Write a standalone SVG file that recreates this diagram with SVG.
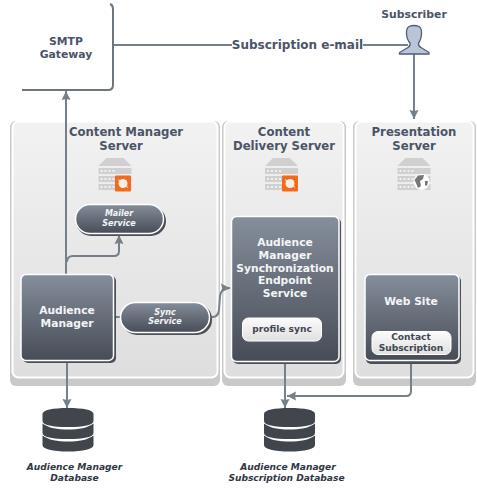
<svg xmlns="http://www.w3.org/2000/svg" width="477" height="490" viewBox="0 0 477 490">
<style>
text{font-family:"DejaVu Sans",Verdana,sans-serif;text-anchor:middle}
.t{font-size:11.7px;font-weight:bold;fill:#4b5467}
.e{font-size:12px;font-weight:bold;fill:#4b5467}
.w{font-size:10.7px;font-weight:bold;fill:#f4f5f7}
.s{font-size:8px;font-weight:bold;font-style:italic;fill:#f4f5f7}
.d{font-size:9.1px;font-weight:bold;font-style:italic;fill:#2f3644}
.b{font-size:10.8px;font-weight:bold;fill:#4b5467}
.i{font-size:9.1px;font-weight:bold;fill:#3f4654}
.c{fill:none;stroke:#76808a;stroke-width:2}
.panel{fill:url(#pg);stroke:#fff;stroke-width:2}
.shadow{fill:#c9c9c9}
.node{fill:url(#ng);stroke:#fff;stroke-width:1.5}
.ns{fill:#4a4f58}
.inner{fill:url(#ig);stroke:#fff;stroke-width:1}
.srv{fill:#d0d0d0}
.db{fill:#41464c}
</style>
<defs>
<linearGradient id="pg" x1="0" y1="0" x2="0" y2="1"><stop offset="0" stop-color="#f2f2f2"/><stop offset="1" stop-color="#dedede"/></linearGradient>
<linearGradient id="ng" x1="0" y1="0" x2="0" y2="1"><stop offset="0" stop-color="#858e9b"/><stop offset="1" stop-color="#474c57"/></linearGradient>
<linearGradient id="ig" x1="0" y1="0" x2="0" y2="1"><stop offset="0" stop-color="#fbfbfb"/><stop offset="1" stop-color="#e0e0e0"/></linearGradient>
<marker id="a" markerUnits="userSpaceOnUse" markerWidth="10" markerHeight="10" refX="9" refY="5" orient="auto"><path d="M0 0.500L9 5L0 9.500L1 5Z" fill="#76808a"/></marker>
<g id="server"><path class="srv" d="M8 0H25L33 8H0Z"/><rect class="srv" y="10" width="33" height="6"/><rect class="srv" y="18" width="33" height="6"/><rect class="srv" y="26" width="33" height="6"/><path d="M2 12h2v2H2zM6 12h2v2H6zM10 12h2v2h-2zM14 12h2v2h-2zM2 20h2v2H2zM6 20h2v2H6zM10 20h2v2h-2zM14 20h2v2h-2zM2 28h2v2H2zM6 28h2v2H6zM10 28h2v2h-2zM14 28h2v2h-2z" fill="#f0f0f0"/></g>
<g id="orange"><rect width="16" height="16" rx="1" fill="#f26a1b"/><circle cx="8" cy="8" r="4.500" fill="#f6efe8"/><path d="M3 4L13 12" stroke="#f6efe8" stroke-width="1"/></g>
<g id="dbs"><path class="db" d="M0 6C0 2 10 0 25.500 0S51 2 51 6V13C51 17 41 19 25.500 19S0 17 0 13Z"/><path class="db" d="M0 15.500C6 20 15 21.500 25.500 21.500S45 20 51 15.500V25C51 29 41 31 25.500 31S0 29 0 25Z"/><path class="db" d="M0 27.500C6 32 15 33.500 25.500 33.500S45 32 51 27.500V37C51 41 41 43.500 25.500 43.500S0 41 0 37Z"/></g>
</defs>

<g id="panel-cm"><rect class="shadow" x="10" y="121" width="210" height="265" rx="6"/><rect class="panel" x="12.500" y="121.500" width="205" height="256" rx="6"/>
<text class="t" x="126" y="136">Content Manager</text><text class="t" x="121" y="150">Server</text>
<use href="#server" x="98.500" y="158"/><use href="#orange" x="115" y="175.500"/></g>
<g id="panel-cd"><rect class="shadow" x="222" y="121" width="124" height="265" rx="6"/><rect class="panel" x="224.500" y="121.500" width="119" height="256" rx="6"/>
<text class="t" x="284" y="136">Content</text><text class="t" x="284" y="150">Delivery Server</text>
<use href="#server" x="265" y="158"/><use href="#orange" x="282" y="175.500"/></g>
<g id="panel-ps"><rect class="shadow" x="353" y="121" width="123" height="265" rx="6"/><rect class="panel" x="355.500" y="121.500" width="118" height="256" rx="6"/>
<text class="t" x="414" y="136">Presentation</text><text class="t" x="414" y="150">Server</text>
<use href="#server" x="397.500" y="158"/><circle cx="421.500" cy="182" r="8" fill="#fff"/><path d="M414.500 180L418 175.500L424 175L423 179L420 181L421 186L418 188L416 183Z" fill="#777"/><path d="M425 181L428 181L427 186L425 185Z" fill="#777"/></g>

<g id="connectors">
<path class="c" d="M66 274V91" marker-end="url(#a)"/>
<path class="c" d="M67 262Q67 256 73 256H114Q119 256 119 251V235" marker-end="url(#a)"/>
<path class="c" d="M113 317H121"/>
<path class="c" d="M210 317H213Q218 317 219 310L220 296Q221 288 230 288" marker-end="url(#a)"/>
<path class="c" d="M67 360V408" marker-end="url(#a)"/>
<path class="c" d="M285 341V408" marker-end="url(#a)"/>
<path class="c" d="M411 361V391Q411 396 406 396H287" marker-end="url(#a)"/>
<path class="c" d="M414 54V119" marker-end="url(#a)"/>
<path class="c" d="M112 45H232"/>
<path class="c" d="M363 45H408"/>
</g>

<g id="smtp"><path d="M22 90H108Q113 90 113 85V9Q113 5 110 4" fill="#fff" stroke="#6d757d" stroke-width="2"/><text class="b" x="66" y="45">SMTP</text><text class="b" x="66" y="58">Gateway</text></g>
<g id="subscriber"><text class="b" x="414" y="18">Subscriber</text>
<path d="M409 26.500Q414 24.500 419 26.500Q422 28.500 421.500 34Q421 40 418.500 43Q418 46 421 47.500L429 52.500V54H399.500V52.500L408 47.500Q410.500 46 410 43Q407 40 406.500 34Q406 28.500 409 26.500Z" fill="#b9c4d8" stroke="#4f5d70" stroke-width="1.300"/></g>
<text id="email" class="e" x="297.500" y="49">Subscription e-mail</text>

<g id="mailer"><rect class="ns" x="76" y="206" width="90" height="30" rx="15"/><rect class="node" x="75.500" y="204.500" width="88" height="29" rx="14.500"/><text class="s" x="119" y="216">Mailer</text><text class="s" x="119" y="226">Service</text></g>
<g id="audience-manager"><rect class="ns" x="23" y="276" width="93" height="87" rx="5"/><rect class="node" x="21" y="274.500" width="92.500" height="86" rx="5"/><text class="w" x="67" y="314">Audience</text><text class="w" x="67" y="327">Manager</text></g>
<g id="sync"><rect class="ns" x="122" y="304" width="90" height="31" rx="15"/><rect class="node" x="120.500" y="302.500" width="89" height="30" rx="15"/><text class="s" x="165" y="315">Sync</text><text class="s" x="165" y="324">Service</text></g>
<g id="endpoint"><rect class="ns" x="233" y="218" width="108" height="146" rx="5"/><rect class="node" x="231.500" y="216.500" width="107.500" height="145" rx="5"/><text class="w" x="285" y="246">Audience</text><text class="w" x="285" y="259">Manager</text><text class="w" x="285" y="272">Synchronization</text><text class="w" x="285" y="284">Endpoint</text><text class="w" x="285" y="297">Service</text>
<rect x="243" y="319" width="80" height="24" rx="6" fill="#555a64"/><rect class="inner" x="242.500" y="318" width="79" height="23" rx="6"/><text class="i" x="282" y="332">profile sync</text></g>
<g id="website"><rect class="ns" x="366" y="276" width="95" height="88" rx="5"/><rect class="node" x="365" y="274.500" width="94" height="86" rx="5"/><text class="w" x="411" y="305">Web Site</text>
<rect class="inner" x="372" y="331.500" width="79" height="23" rx="6"/><text class="i" x="411" y="340">Contact</text><text class="i" x="411" y="351">Subscription</text></g>

<g id="db1"><use href="#dbs" x="42.500" y="408"/><text class="d" x="74.500" y="470">Audience Manager</text><text class="d" x="74.500" y="481">Database</text></g>
<g id="db2"><use href="#dbs" x="264" y="408"/><text class="d" x="288" y="470">Audience Manager</text><text class="d" x="286.500" y="481">Subscription Database</text></g>
</svg>
